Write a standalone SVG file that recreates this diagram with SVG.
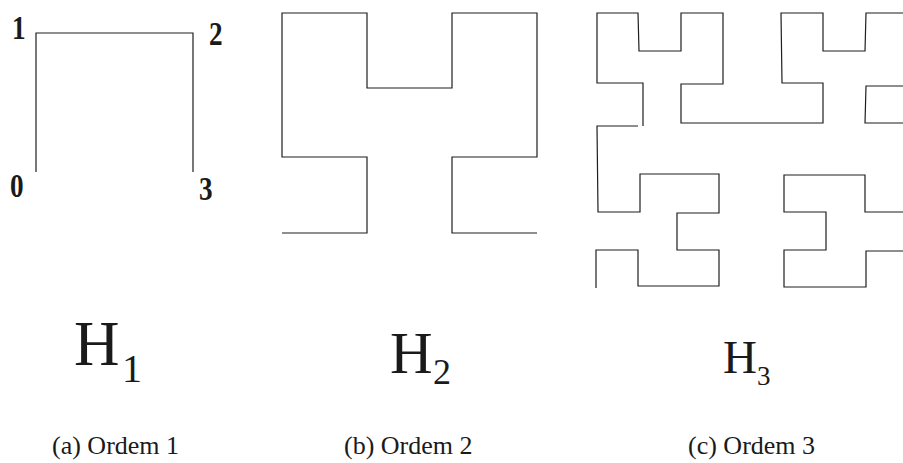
<svg xmlns="http://www.w3.org/2000/svg" width="903" height="463" viewBox="0 0 903 463">
  <style>
    .curve { fill: none; stroke: #1e1e1e; stroke-width: 1.2; stroke-linejoin: miter; stroke-linecap: butt; }
    .corner { font-family: "Liberation Serif", "Times New Roman", serif; font-weight: bold; font-size: 34px; fill: #1a1a1a; }
    .name { font-family: "Liberation Serif", "Times New Roman", serif; fill: #1a1a1a; }
    .caption { font-family: "Liberation Serif", "Times New Roman", serif; font-size: 26px; fill: #1a1a1a; }
  </style>
  <rect width="903" height="463" fill="#ffffff"/>

  <!-- Hilbert curve, order 1 -->
  <g id="order1">
    <polyline class="curve" points="36,172 36,33 193,33 193,172"/>
    <text class="corner" transform="translate(12,39) scale(0.8,1)">1</text>
    <text class="corner" transform="translate(209,45) scale(0.8,1)">2</text>
    <text class="corner" transform="translate(10,197) scale(0.8,1)">0</text>
    <text class="corner" transform="translate(199,200) scale(0.8,1)">3</text>
    <text class="name" x="74" y="365" font-size="63">H</text>
    <text class="name" x="122" y="382" font-size="40">1</text>
    <text class="caption" x="52" y="454">(a) Ordem 1</text>
  </g>

  <!-- Hilbert curve, order 2 -->
  <g id="order2">
    <polyline class="curve" points="282,233 367,233 367,157 282,157 282,13 367,13 367,88 452,88 452,13 537,13 537,157 452,157 452,233 537,233"/>
    <text class="name" x="390" y="373" font-size="59">H</text>
    <text class="name" x="433" y="384" font-size="36">2</text>
    <text class="caption" x="344" y="454">(b) Ordem 2</text>
  </g>

  <!-- Hilbert curve, order 3 (runs past the right edge) -->
  <g id="order3">
    <polyline class="curve" points="596,288 596,250 638,250 638,286 719,286 719,250 677,250 677,213 719,213 719,174 640,174 640,212 598,212 597,126 638,126"/>
    <polyline class="curve" points="643,126 643,83 597,83 597,13 638,13 639,51 681,51 681,13 723,13 723,84 681,84 681,123 823,123 823,83 782,83 781,13 823,13 823,51 865,51 866,13 903,13"/>
    <polyline class="curve" points="903,86 866,86 865,123 903,123"/>
    <polyline class="curve" points="903,212 865,212 865,175 784,175 784,212 826,212 826,250 784,250 784,287 866,287 866,251 903,251"/>
    <text class="name" x="723" y="373" font-size="47">H</text>
    <text class="name" x="757" y="385" font-size="27">3</text>
    <text class="caption" x="688" y="454">(c) Ordem 3</text>
  </g>
</svg>
